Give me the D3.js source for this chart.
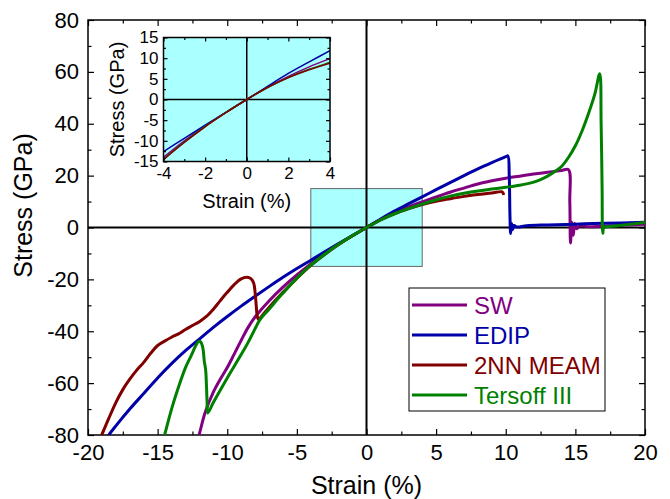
<!DOCTYPE html>
<html>
<head>
<meta charset="utf-8">
<script src="https://cdn.jsdelivr.net/npm/d3@7"></script>
<style>
  body { margin: 0; background: #fff; }
  svg { font-family: "Liberation Sans", Arial, sans-serif; }
</style>
</head>
<body>
<div id="chart"></div>
<script>
// [strain %, stress GPa], in loading order
const swData = [
    [-12.15, -82], [-12, -79.5], [-11.6, -71.5], [-11, -63.5], [-10.5, -58.5], [-10, -54],
    [-9.5, -48.8], [-9, -43.5], [-8.5, -38.5], [-8, -34.5], [-7, -28.3], [-6, -23],
    [-5, -18.3], [-4, -14], [-3, -10], [-2, -6.4], [-1, -3.1], [0, 0],
    [1, 3], [2, 5.6], [3, 7.9], [4, 9.9], [5, 11.8], [6, 13.6], [7, 15.2], [8, 16.8],
    [9, 18], [10, 19], [11, 19.8], [12, 20.6], [13, 21.3], [14, 22], [14.5, 22.3],
    [14.6, 10], [14.65, -6], [14.75, 2], [14.85, -3], [14.95, 1.5], [15.1, -0.5],
    [15.3, 0.6], [16, 0.3], [18, 0.8], [20, 1.3]
];
const edipData = [
    [-18.6, -81], [-18.5, -80], [-18, -76.5], [-17, -70], [-16, -64], [-15, -58],
    [-14, -52.5], [-13, -47.5], [-12, -43], [-11, -38.5], [-10, -34.3], [-9, -30.3],
    [-8, -26.5], [-7, -22.8], [-6, -19.2], [-5, -15.8], [-4, -12.6], [-3, -9.4],
    [-2, -6.2], [-1, -3.1], [0, 0],
    [1, 3.2], [2, 6.3], [3, 9.1], [4, 11.8], [5, 14.6], [6, 17.3], [7, 20], [8, 22.6],
    [9, 25], [10, 27.3], [10.15, 27.6], [10.25, 20], [10.3, 5], [10.35, -2.3],
    [10.42, 1.5], [10.5, -0.8], [10.6, 0.8], [10.8, 0.2], [11.5, 0.7], [13, 1],
    [15, 1.3], [17, 1.6], [20, 2]
];
const meamData = [
    [-19.1, -81], [-19, -79.8], [-18.5, -73.5], [-18, -67.5], [-17.5, -62.5], [-17, -58.5],
    [-16.5, -55], [-16, -52], [-15.5, -48.5], [-15, -45.5], [-14.5, -43.8], [-14, -42.3],
    [-13.5, -41], [-13, -39.3], [-12.5, -37.8], [-12, -36.3], [-11.5, -34.3], [-11, -31.5],
    [-10.5, -28.2], [-10, -25], [-9.5, -22], [-9, -19.8], [-8.6, -19.2], [-8.3, -19.7],
    [-8.1, -21.5], [-8, -25], [-7.92, -30], [-7.85, -34], [-7.75, -35.5], [-7.5, -34],
    [-7, -30.8], [-6, -25], [-5, -19.6], [-4, -14.6], [-3, -10.4], [-2, -6.6], [-1, -3.2],
    [0, 0],
    [1, 2.9], [2, 5.3], [3, 7.2], [4, 8.8], [5, 10.1], [6, 11.1], [7, 12], [8, 12.7],
    [9, 13.3], [9.7, 13.8], [9.8, 13.4], [9.85, 12.5]
];
const tersoffData = [
    [-14.6, -82], [-14.5, -80], [-14, -70], [-13.5, -61.5], [-13, -54], [-12.6, -49.5],
    [-12.3, -46], [-12.05, -43.9], [-11.9, -44.2], [-11.75, -46.5], [-11.65, -51.5],
    [-11.55, -55], [-11.5, -60], [-11.45, -67], [-11.4, -71.5], [-11, -67.5], [-10, -58],
    [-9, -49], [-8.5, -44.3], [-8, -39], [-7.66, -35.6], [-7, -31.5], [-6, -25.3],
    [-5, -19.5], [-4, -14.5], [-3, -10.3], [-2, -6.5], [-1, -3.1], [0, 0],
    [1, 2.9], [2, 5.3], [3, 7.3], [4, 9], [5, 10.7], [6, 12.1], [7, 13.2], [8, 14.1],
    [9, 14.8], [10, 15.5], [11, 16.3], [12, 17.5], [12.5, 18.5], [13, 19.8], [13.5, 21.5],
    [14, 23.5], [14.5, 27], [15, 31.5], [15.5, 37.5], [16, 44.8], [16.4, 51.5],
    [16.75, 59.3], [16.85, 40], [16.92, 15], [16.97, -2.2], [17.05, 0], [17.5, 0.4],
    [18, 0.7], [19, 1.3], [20, 2]
];

const seriesNames = ["SW", "EDIP", "2NN MEAM", "Tersoff III"];
const seriesColors = ["#800080", "#0000a8", "#800000", "#008000"];
const seriesData = [swData, edipData, meamData, tersoffData];

const xTicks = [-20, -15, -10, -5, 0, 5, 10, 15, 20];
const yTicks = [-80, -60, -40, -20, 0, 20, 40, 60, 80];
const insetXTicks = [-4, -2, 0, 2, 4];
const insetYTicks = [-15, -10, -5, 0, 5, 10, 15];
const zoomBox = { x: [-4, 4], y: [-15, 15] };

const width = 670, height = 499;
const cyan = "#aaffff";

const svg = d3.select("#chart").append("svg")
    .attr("width", width)
    .attr("height", height);

// main scales
const x = d3.scaleLinear().domain([-20, 20]).range([88, 645]);
const y = d3.scaleLinear().domain([-80, 80]).range([435, 20]);

// inset scales
const xi = d3.scaleLinear().domain([-4, 4]).range([163.5, 330]);
const yi = d3.scaleLinear().domain([-15, 15]).range([161.5, 37.5]);

const defs = svg.append("defs");
defs.append("clipPath").attr("id", "clipMain").append("rect")
    .attr("x", 88).attr("y", 20).attr("width", 557).attr("height", 415);
defs.append("clipPath").attr("id", "clipInset").append("rect")
    .attr("x", 163.5).attr("y", 37.5).attr("width", 166.5).attr("height", 124);

// zoom box marker in main plot
svg.append("rect")
    .attr("x", x(zoomBox.x[0]))
    .attr("y", y(zoomBox.y[1]))
    .attr("width", x(zoomBox.x[1]) - x(zoomBox.x[0]))
    .attr("height", y(zoomBox.y[0]) - y(zoomBox.y[1]))
    .attr("fill", cyan)
    .attr("stroke", "#666")
    .attr("stroke-width", 1);

// zero lines
svg.append("line").attr("x1", 88).attr("x2", 645).attr("y1", y(0)).attr("y2", y(0))
    .attr("stroke", "#000").attr("stroke-width", 2);
svg.append("line").attr("x1", x(0)).attr("x2", x(0)).attr("y1", 20).attr("y2", 435)
    .attr("stroke", "#000").attr("stroke-width", 2);

function drawAxes(g, xs, ys, xMajor, xMinor, yMajor, yMinor, fontSize, majorLen, minorLen, pad) {
    const [x0, x1] = xs.range();
    const [y0, y1] = ys.range();
    const styleAxis = sel => {
        sel.select(".domain").remove();
        sel.selectAll("line").attr("stroke", "#000").attr("stroke-width", 1.2);
        sel.selectAll("text").attr("font-size", fontSize).attr("fill", "#000")
            .text(function () { return this.textContent.replace("\u2212", "-"); });
    };
    // bottom
    g.append("g").attr("transform", `translate(0,${y0})`)
        .call(d3.axisBottom(xs).tickValues(xMinor).tickSize(-minorLen).tickFormat(""))
        .call(styleAxis);
    g.append("g").attr("transform", `translate(0,${y0})`)
        .call(d3.axisBottom(xs).tickValues(xMajor).tickSize(-majorLen).tickPadding(pad).tickFormat(d3.format("d")))
        .call(styleAxis);
    // top
    g.append("g").attr("transform", `translate(0,${y1})`)
        .call(d3.axisTop(xs).tickValues(xMinor).tickSize(-minorLen).tickFormat(""))
        .call(styleAxis);
    g.append("g").attr("transform", `translate(0,${y1})`)
        .call(d3.axisTop(xs).tickValues(xMajor).tickSize(-majorLen).tickFormat(""))
        .call(styleAxis);
    // left
    g.append("g").attr("transform", `translate(${x0},0)`)
        .call(d3.axisLeft(ys).tickValues(yMinor).tickSize(-minorLen).tickFormat(""))
        .call(styleAxis);
    g.append("g").attr("transform", `translate(${x0},0)`)
        .call(d3.axisLeft(ys).tickValues(yMajor).tickSize(-majorLen).tickPadding(pad).tickFormat(d3.format("d")))
        .call(styleAxis);
    // right
    g.append("g").attr("transform", `translate(${x1},0)`)
        .call(d3.axisRight(ys).tickValues(yMinor).tickSize(-minorLen).tickFormat(""))
        .call(styleAxis);
    g.append("g").attr("transform", `translate(${x1},0)`)
        .call(d3.axisRight(ys).tickValues(yMajor).tickSize(-majorLen).tickFormat(""))
        .call(styleAxis);
    // frame
    g.append("rect")
        .attr("x", x0).attr("y", y1)
        .attr("width", x1 - x0).attr("height", y0 - y1)
        .attr("fill", "none").attr("stroke", "#000").attr("stroke-width", 1.5);
}

drawAxes(svg.append("g"), x, y,
    xTicks, d3.range(-17.5, 20, 5),
    yTicks, d3.range(-70, 80, 20),
    22, 6, 3.5, 9);

// curves
const line = d3.line()
    .x(d => x(d[0]))
    .y(d => y(d[1]))
    .curve(d3.curveCatmullRom.alpha(0.5));

svg.append("g").attr("clip-path", "url(#clipMain)")
    .selectAll("path")
    .data(seriesData)
    .join("path")
    .attr("d", line)
    .attr("fill", "none")
    .attr("stroke", (d, i) => seriesColors[i])
    .attr("stroke-width", 3)
    .attr("stroke-linejoin", "round");

// axis titles
svg.append("text")
    .attr("x", x(0)).attr("y", 494)
    .attr("text-anchor", "middle")
    .attr("font-size", 25)
    .text("Strain (%)");
svg.append("text")
    .attr("transform", `translate(32,${(20 + 435) / 2 - 22}) rotate(-90)`)
    .attr("text-anchor", "middle")
    .attr("font-size", 25)
    .text("Stress (GPa)");

// inset
const inset = svg.append("g");
inset.append("rect")
    .attr("x", 163.5).attr("y", 37.5).attr("width", 166.5).attr("height", 124)
    .attr("fill", cyan);
inset.append("line").attr("x1", 163.5).attr("x2", 330).attr("y1", yi(0)).attr("y2", yi(0))
    .attr("stroke", "#000").attr("stroke-width", 1.5);
inset.append("line").attr("x1", xi(0)).attr("x2", xi(0)).attr("y1", 37.5).attr("y2", 161.5)
    .attr("stroke", "#000").attr("stroke-width", 1.5);

const lineInset = d3.line()
    .x(d => xi(d[0]))
    .y(d => yi(d[1]))
    .curve(d3.curveCatmullRom.alpha(0.5));

const insetOrder = [0, 1, 3, 2];
inset.append("g").attr("clip-path", "url(#clipInset)")
    .selectAll("path")
    .data(insetOrder)
    .join("path")
    .attr("d", i => lineInset(seriesData[i]))
    .attr("fill", "none")
    .attr("stroke", i => seriesColors[i])
    .attr("stroke-width", 1.5);

drawAxes(inset, xi, yi,
    insetXTicks, d3.range(-3, 4, 2),
    insetYTicks, d3.range(-12.5, 15, 5),
    17, 4, 2.5, 5);

inset.append("text")
    .attr("x", xi(0)).attr("y", 208)
    .attr("text-anchor", "middle")
    .attr("font-size", 20)
    .text("Strain (%)");
inset.append("text")
    .attr("transform", `translate(124,${(37.5 + 161.5) / 2}) rotate(-90)`)
    .attr("text-anchor", "middle")
    .attr("font-size", 20)
    .text("Stress (GPa)");

// legend
const legend = svg.append("g");
legend.append("rect")
    .attr("x", 409).attr("y", 288).attr("width", 196).attr("height", 123)
    .attr("fill", "#fff").attr("stroke", "#000").attr("stroke-width", 1);

const legendRow = legend.selectAll("g.row")
    .data(seriesNames)
    .join("g")
    .attr("class", "row")
    .attr("transform", (d, i) => `translate(0,${305 + i * 30})`);
legendRow.append("line")
    .attr("x1", 412).attr("x2", 467)
    .attr("stroke", (d, i) => seriesColors[i])
    .attr("stroke-width", 3);
legendRow.append("text")
    .attr("x", 474).attr("y", 8.5)
    .attr("font-size", 24)
    .attr("fill", (d, i) => seriesColors[i])
    .text(d => d);
</script>
</body>
</html>
